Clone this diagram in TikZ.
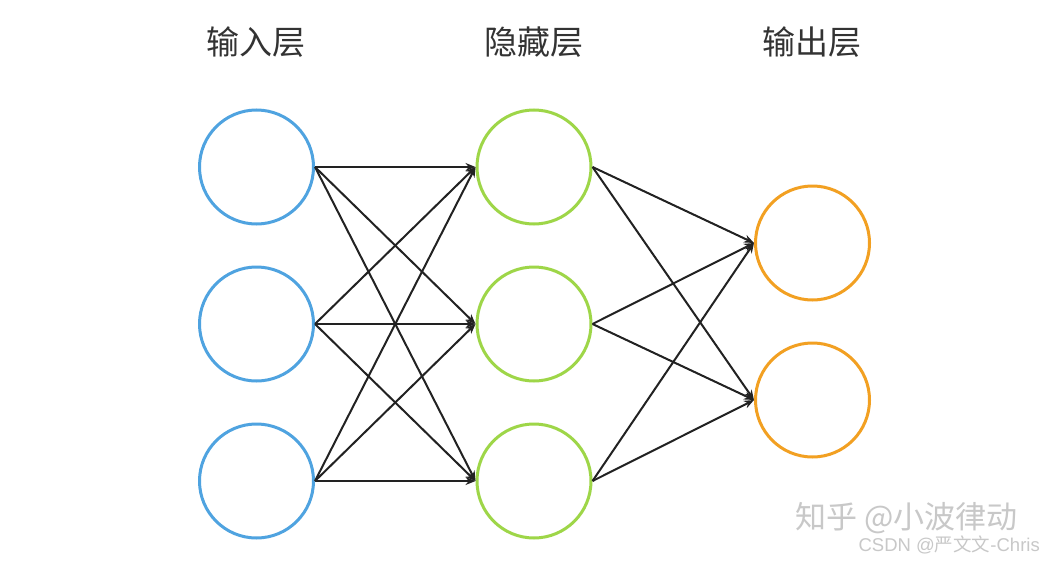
\documentclass[tikz,border=0pt]{standalone}
\usepackage{fontspec}
\newfontfamily\cjk{Noto Sans CJK SC}
\setmainfont{Liberation Sans}
\usetikzlibrary{arrows.meta}
\definecolor{inblue}{HTML}{4FA3E0}
\definecolor{hidgreen}{HTML}{9ED648}
\definecolor{outorange}{HTML}{F2A022}
\definecolor{edgec}{HTML}{222222}
\definecolor{wm}{HTML}{C8C8C8}
\begin{document}
\begin{tikzpicture}[x=1pt,y=-1pt,
  neuron/.style={circle,draw,line width=3pt,minimum size=114pt,inner sep=0pt},
  inn/.style={neuron,draw=inblue},
  hid/.style={neuron,draw=hidgreen},
  outn/.style={neuron,draw=outorange},
  conn/.style={draw=edgec,line width=2pt,-{Stealth[length=10pt,width=8pt]}},
  layerlabel/.style={font=\cjk\fontsize{33}{36}\selectfont,text=black!80},
  wmtext/.style={text=wm,inner sep=0pt}]
\useasboundingbox (0,0) rectangle (1044,562);
\fill[white] (0,0) rectangle (1044,562);
% labels
\node[layerlabel] (l1) at (256,42) {输入层};
\node[layerlabel] (l2) at (534,42) {隐藏层};
\node[layerlabel] (l3) at (812,42) {输出层};
% neurons
\node[inn] (i1) at (256.5,167) {};
\node[inn] (i2) at (256.5,324) {};
\node[inn] (i3) at (256.5,481) {};
\node[hid] (h1) at (534,167) {};
\node[hid] (h2) at (534,324) {};
\node[hid] (h3) at (534,481) {};
\node[outn] (o1) at (812.5,243) {};
\node[outn] (o2) at (812.5,400) {};
% connections
\foreach \a in {1,2,3}{
  \foreach \b in {1,2,3}{
    \draw[conn] (i\a.east) -- (h\b.west);
  }
  \foreach \b in {1,2}{
    \draw[conn] (h\a.east) -- (o\b.west);
  }
}
% watermark
\node[wmtext,anchor=east,font=\cjk\fontsize{31}{34}\selectfont] (wm1) at (1018,518) {知乎 @小波律动};
\node[wmtext,anchor=east,font=\fontsize{18.5}{20}\selectfont] (wm2) at (1040,545) {CSDN @{\cjk 严文文}-Chris};
\end{tikzpicture}
\end{document}
